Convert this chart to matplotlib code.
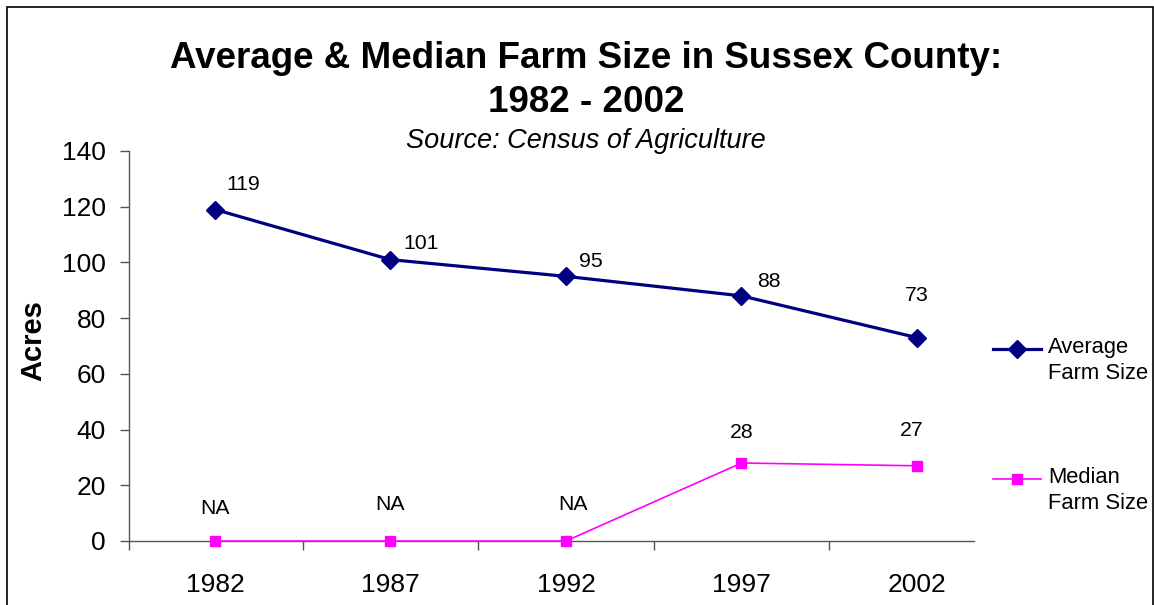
import matplotlib
matplotlib.use("Agg")
import matplotlib.pyplot as plt
from matplotlib.lines import Line2D
from matplotlib.patches import Rectangle

plt.rcParams['font.family'] = ['Liberation Sans', 'DejaVu Sans']

# Census of Agriculture figures
years = ["1982", "1987", "1992", "1997", "2002"]
avg_size = [119, 101, 95, 88, 73]
median_size = [0, 0, 0, 28, 27]          # no median reported before 1997
median_labels = ["NA", "NA", "NA", "28", "27"]
y_ticks = [0, 20, 40, 60, 80, 100, 120, 140]

W, H = 1154, 605
fig = plt.figure(figsize=(W / 100, H / 100), dpi=100)
ax = fig.add_axes([129 / W, 1 - 541 / H, 845 / W, 390 / H])

x = list(range(len(years)))
ax.plot(x, avg_size, color="#000080", lw=2.3, marker="D", ms=9.5,
        clip_on=False, zorder=3)
ax.plot(x, median_size, color="#ff00ff", lw=1.2, marker="s", ms=7.5,
        clip_on=False, zorder=3)

# value labels, offsets in pixels
avg_off = [(28, 25), (31, 16), (25, 15), (27, 14), (0, 42)]
med_off = [(0, 33), (0, 37), (7, 37), (0, 31), (-5, 35)]
for i, v in enumerate(avg_size):
    dx, dy = avg_off[i]
    ax.annotate(str(v), (i, v), xytext=(dx * 0.72, dy * 0.72),
                textcoords="offset points", ha="center", va="center",
                fontsize=15.3)
for i, v in enumerate(median_size):
    dx, dy = med_off[i]
    ax.annotate(median_labels[i], (i, v), xytext=(dx * 0.72, dy * 0.72),
                textcoords="offset points", ha="center", va="center",
                fontsize=15.3)

ax.set_xlim(-0.49, 4.325)
ax.set_ylim(0, 140)
ax.set_yticks(y_ticks)
ax.set_xticks(x)
ax.set_xticklabels(years)
ax.set_xticks([-0.49, 0.5, 1.5, 2.5, 3.5], minor=True)
ax.tick_params(axis="x", which="major", length=0, pad=23, labelsize=19)
ax.tick_params(axis="x", which="minor", length=6.5, width=1, color="#555555",
               direction="out")
ax.tick_params(axis="y", length=6.5, width=1, color="#555555", pad=10,
               labelsize=19)

for s in ["top", "right"]:
    ax.spines[s].set_visible(False)
for s in ["left", "bottom"]:
    ax.spines[s].set_color("#555555")
    ax.spines[s].set_linewidth(1)

cx = 586 / W
fig.text(cx, 1 - 59 / H, "Average & Median Farm Size in Sussex County:",
         ha="center", va="center", fontsize=26.5, fontweight="bold")
fig.text(cx, 1 - 103 / H, "1982 - 2002", ha="center", va="center",
         fontsize=26.5, fontweight="bold")
fig.text(cx, 1 - 141 / H, "Source: Census of Agriculture", ha="center",
         va="center", fontsize=19.5, style="italic")
fig.text(33 / W, 1 - 341 / H, "Acres", rotation=90, ha="center",
         va="center", fontsize=21, fontweight="bold")

# legend drawn by hand on the right
legend = [("Average\nFarm Size", "#000080", 2.3, "D", 9.5, 349),
          ("Median\nFarm Size", "#ff00ff", 1.2, "s", 7.5, 479)]
for label, col, lw, mk, ms, ly in legend:
    yf = 1 - ly / H
    fig.add_artist(Line2D([993 / W, 1041 / W], [yf, yf], color=col, lw=lw,
                          transform=fig.transFigure))
    fig.add_artist(Line2D([1017 / W], [yf], color=col, marker=mk, ms=ms,
                          transform=fig.transFigure))
    fig.text(1048 / W, 1 - (ly - 12) / H, label, ha="left", va="top",
             fontsize=15.8, linespacing=1.32)

# outer chart border
fig.add_artist(Rectangle((7 / W, -0.05), 1146 / W, 1.05 - 7 / H,
                         fill=False, ec="black", lw=1.2,
                         transform=fig.transFigure))

fig.savefig("out.png", dpi=100)
